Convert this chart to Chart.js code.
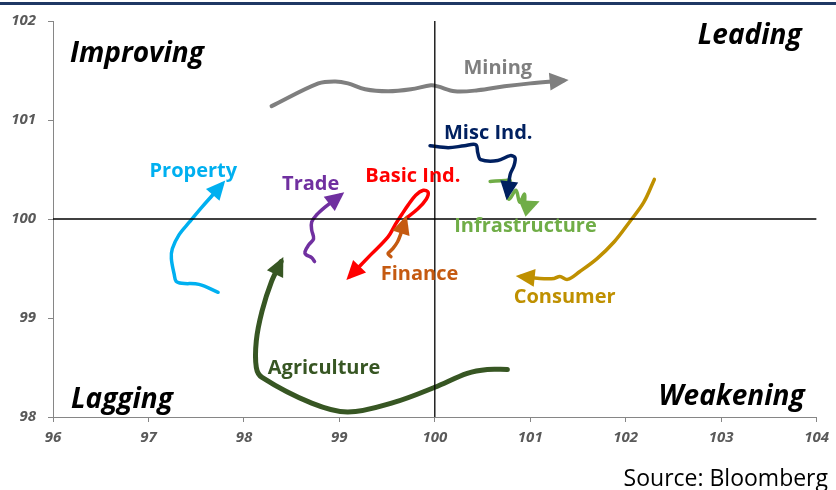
<!doctype html>
<html lang="en">
<head>
<meta charset="utf-8" />
<title>Relative rotation</title>
<style>
  body { margin: 0; background: #fff; }
  .wrap { position: relative; width: 836px; height: 490px; }
  .topline { position: absolute; left: 0; top: 2px; width: 836px; height: 3px; background: #1F3864; }
</style>
</head>
<body>
<div class="wrap">
  <div class="topline"></div>
  <canvas id="rrg"></canvas>
</div>
<script src="https://cdn.jsdelivr.net/npm/chart.js@4.4.1/dist/chart.umd.min.js"></script>
<script>
  // sector paths (x = relative strength, y = momentum)
  var miningX = [98.29, 98.78, 98.96, 99.09, 99.27, 99.51, 99.75, 99.96, 100.03, 100.21, 100.45, 100.73, 101.00, 101.35];
  var miningY = [101.14, 101.37, 101.39, 101.37, 101.31, 101.29, 101.31, 101.35, 101.34, 101.29, 101.30, 101.34, 101.37, 101.40];

  var miscX = [99.95, 100.14, 100.31, 100.43, 100.45, 100.48, 100.66, 100.79, 100.84, 100.83, 100.79, 100.76];
  var miscY = [100.74, 100.72, 100.74, 100.75, 100.67, 100.60, 100.59, 100.64, 100.62, 100.54, 100.45, 100.24];

  var basicX = [99.69, 99.82, 99.91, 99.93, 99.88, 99.80, 99.72, 99.65, 99.59, 99.51, 99.33, 99.11];
  var basicY = [100.00, 100.10, 100.20, 100.27, 100.29, 100.24, 100.14, 100.04, 99.95, 99.82, 99.64, 99.42];

  var propertyX = [97.73, 97.53, 97.35, 97.29, 97.27, 97.24, 97.25, 97.32, 97.43, 97.56, 97.67, 97.77];
  var propertyY = [99.26, 99.34, 99.35, 99.37, 99.44, 99.60, 99.70, 99.84, 99.97, 100.12, 100.24, 100.35];

  var tradeX = [98.74, 98.71, 98.65, 98.64, 98.68, 98.73, 98.71, 98.71, 98.76, 98.85, 99.01];
  var tradeY = [99.57, 99.61, 99.64, 99.67, 99.74, 99.80, 99.89, 99.97, 100.04, 100.12, 100.24];

  var infraX = [100.58, 100.74, 100.79, 100.75, 100.78, 100.85, 100.89, 100.94, 100.95, 101.05];
  var infraY = [100.38, 100.39, 100.39, 100.30, 100.20, 100.29, 100.17, 100.25, 100.12, 100.16];

  var financeX = [99.54, 99.51, 99.56, 99.61, 99.64, 99.69];
  var financeY = [99.62, 99.65, 99.70, 99.77, 99.84, 99.99];

  var consumerX = [102.30, 102.19, 102.04, 101.88, 101.70, 101.52, 101.39, 101.31, 101.25, 101.10, 100.90];
  var consumerY = [100.40, 100.17, 99.97, 99.77, 99.60, 99.47, 99.39, 99.42, 99.40, 99.40, 99.42];

  var agriX = [100.76, 100.55, 100.34, 100.00, 99.58, 99.09, 98.71, 98.19, 98.13, 98.13, 98.19, 98.29, 98.39];
  var agriY = [98.48, 98.48, 98.44, 98.30, 98.15, 98.05, 98.14, 98.40, 98.50, 98.77, 99.07, 99.37, 99.57];

  var sectorNames = ['Mining', 'Misc Ind.', 'Basic Ind.', 'Property', 'Trade', 'Infrastructure', 'Finance', 'Consumer', 'Agriculture'];
  var sectorColors = ['#7F7F7F', '#002060', '#FF0000', '#00B0F0', '#7030A0', '#70AD47', '#C55A11', '#BF9000', '#375623'];
  var sectorXs = [miningX, miscX, basicX, propertyX, tradeX, infraX, financeX, consumerX, agriX];
  var sectorYs = [miningY, miscY, basicY, propertyY, tradeY, infraY, financeY, consumerY, agriY];
  var sectorWidths = [4, 3.5, 3.5, 3.5, 3.5, 3.5, 3.5, 3.5, 5];

  // where each sector name sits (data coordinates, centre of text)
  var labelX = [100.66, 100.56, 99.77, 97.47, 98.70, 100.95, 99.84, 101.36, 98.84];
  var labelY = [101.52, 100.87, 100.43, 100.48, 100.35, 99.93, 99.44, 99.21, 98.49];

  var quadrants = ['Improving', 'Leading', 'Lagging', 'Weakening'];

  function pts(xs, ys) {
    return xs.map(function(x, i) { return { x: x, y: ys[i] }; });
  }

  var datasets = [
    { data: [{ x: 100, y: 98 }, { x: 100, y: 102 }], borderColor: '#000', borderWidth: 1.3, pointRadius: 0, tension: 0 },
    { data: [{ x: 96, y: 100 }, { x: 104, y: 100 }], borderColor: '#000', borderWidth: 1.3, pointRadius: 0, tension: 0 }
  ];
  sectorNames.forEach(function(name, i) {
    datasets.push({
      label: name,
      data: pts(sectorXs[i], sectorYs[i]),
      borderColor: sectorColors[i],
      borderWidth: sectorWidths[i],
      pointRadius: 0,
      tension: 0.35,
      borderCapStyle: 'round',
      borderJoinStyle: 'round',
      arrow: true
    });
  });

  var arrowPlugin = {
    id: 'arrows',
    afterDatasetsDraw: function(chart) {
      var ctx = chart.ctx;
      chart.data.datasets.forEach(function(ds, di) {
        if (!ds.arrow) return;
        var pts = chart.getDatasetMeta(di).data;
        var a = pts[pts.length - 2], b = pts[pts.length - 1];
        var dx = b.x - a.x, dy = b.y - a.y;
        var len = Math.sqrt(dx * dx + dy * dy) || 1;
        var ux = dx / len, uy = dy / len;
        var tipX = b.x + ux * 5, tipY = b.y + uy * 5;
        var L = 19, W = 9;
        var bx = tipX - ux * L, by = tipY - uy * L;
        ctx.save();
        ctx.fillStyle = ds.borderColor;
        ctx.beginPath();
        ctx.moveTo(tipX, tipY);
        ctx.lineTo(bx - uy * W, by + ux * W);
        ctx.lineTo(bx + uy * W, by - ux * W);
        ctx.closePath();
        ctx.fill();
        ctx.restore();
      });
    }
  };

  var textPlugin = {
    id: 'texts',
    afterDraw: function(chart) {
      var ctx = chart.ctx, xs = chart.scales.x, ys = chart.scales.y, ca = chart.chartArea;
      ctx.save();
      ctx.textAlign = 'center';
      ctx.textBaseline = 'middle';
      ctx.font = 'bold 20px "Open Sans"';
      sectorNames.forEach(function(name, i) {
        ctx.fillStyle = sectorColors[i];
        ctx.fillText(name, xs.getPixelForValue(labelX[i]), ys.getPixelForValue(labelY[i]));
      });
      ctx.fillStyle = '#000';
      ctx.font = 'italic bold 28px "Open Sans"';
      ctx.textBaseline = 'alphabetic';
      ctx.textAlign = 'left';
      ctx.fillText(quadrants[0], ca.left + 17, ca.top + 41);
      ctx.fillText(quadrants[2], ca.left + 18, ca.bottom - 9);
      ctx.textAlign = 'right';
      ctx.fillText(quadrants[1], ca.right - 15, ca.top + 23);
      ctx.fillText(quadrants[3], ca.right - 12, ca.bottom - 12);
      ctx.font = '23px "Open Sans"';
      ctx.fillText('Source: Bloomberg', chart.width - 8, chart.height - 4);
      ctx.restore();
    }
  };

  var tickFont = { family: 'Open Sans', size: 15, style: 'italic', weight: 'bold' };

  new Chart(document.getElementById('rrg'), {
    type: 'line',
    data: { datasets: datasets },
    plugins: [arrowPlugin, textPlugin],
    options: {
      responsive: true,
      maintainAspectRatio: false,
      animation: false,
      events: [],
      layout: { padding: { top: 14, right: 10, bottom: 38, left: 0 } },
      plugins: { legend: { display: false }, tooltip: { enabled: false } },
      scales: {
        x: {
          type: 'linear', min: 96, max: 104,
          ticks: { stepSize: 1, color: '#595959', font: tickFont, padding: 7 },
          grid: { drawOnChartArea: false, tickLength: 5, color: '#868686' },
          border: { color: '#868686', width: 1 },
          afterFit: function(s) { s.height = 35; }
        },
        y: {
          type: 'linear', min: 98, max: 102,
          ticks: { stepSize: 1, color: '#595959', font: tickFont, padding: 12 },
          grid: { drawOnChartArea: false, tickLength: 5, color: '#868686' },
          border: { color: '#868686', width: 1 },
          afterFit: function(s) { s.width = 53; }
        }
      }
    }
  });
</script>
</body>
</html>
